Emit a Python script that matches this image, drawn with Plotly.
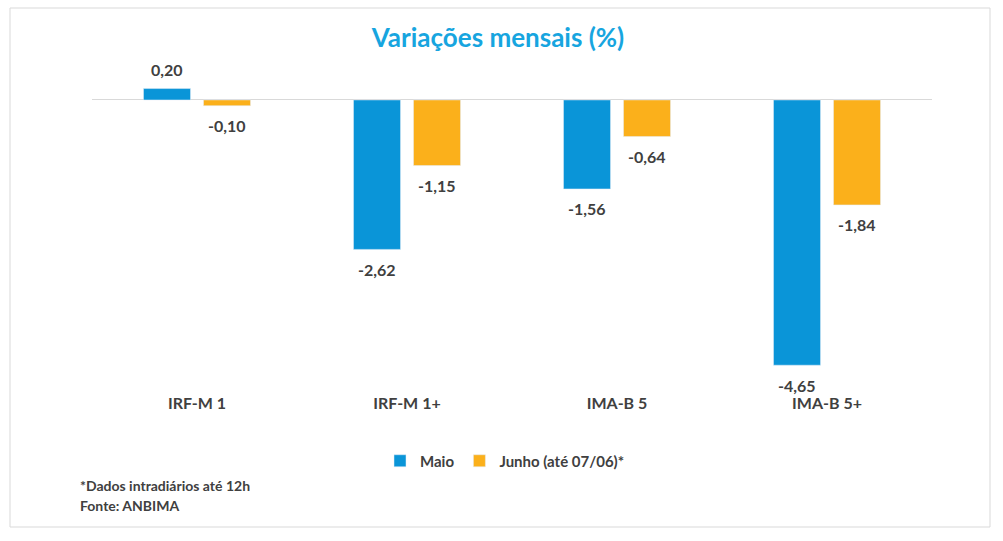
import plotly.graph_objects as go

categories = ["IRF-M 1", "IRF-M 1+", "IMA-B 5", "IMA-B 5+"]
maio = [0.20, -2.62, -1.56, -4.65]
junho = [-0.10, -1.15, -0.64, -1.84]
maio_labels = ["0,20", "-2,62", "-1,56", "-4,65"]
junho_labels = ["-0,10", "-1,15", "-0,64", "-1,84"]

FONT = "Lato"
TXT = "#404040"

W, H = 1003, 541
L, R, T, B = 92, 71, 80, 149  # plot area: x 92..932, y 80..392
pw = W - L - R
ph = H - T - B

def px(x):
    return (x - L) / pw

def py(y):
    return (H - B - y) / ph

fig = go.Figure()
fig.add_trace(go.Bar(x=categories, y=maio, name="Maio", marker_color="#0a95d8"))
fig.add_trace(go.Bar(x=categories, y=junho, name="Junho (até 07/06)*", marker_color="#fbb01b"))

# data labels
for series, labels, xs in ((maio, maio_labels, -30), (junho, junho_labels, 30)):
    for c, v, t in zip(categories, series, labels):
        fig.add_annotation(x=c, y=v, text="<b>" + t + "</b>", showarrow=False,
                           xshift=xs, yshift=19 if v >= 0 else -20,
                           xanchor="center", yanchor="middle",
                           font=dict(family=FONT, size=16, color=TXT))

fig.update_layout(
    width=W, height=H,
    margin=dict(l=L, r=R, t=T, b=B),
    paper_bgcolor="white", plot_bgcolor="white",
    barmode="group", bargap=0.4286, bargroupgap=0.2167,
    font=dict(family=FONT, color=TXT),
    title=dict(text="<b>Variações mensais (%)</b>", x=498 / W, xref="container",
               xanchor="center", y=1 - 38 / H, yanchor="middle",
               font=dict(family=FONT, size=26, color="#17a5df")),
    xaxis=dict(showgrid=False, showline=False, ticks="",
               tickfont=dict(family=FONT, size=16, color=TXT, weight="bold")),
    yaxis=dict(range=[-5.12, 0.35], showgrid=False, showticklabels=False,
               zeroline=True, zerolinecolor="#d9d9d9", zerolinewidth=1),
    showlegend=True,
    legend=dict(orientation="h", x=px(505), xanchor="center", y=py(461),
                yanchor="middle", font=dict(family=FONT, size=15, color=TXT, weight="bold"),
                itemwidth=30, traceorder="normal"),
)

fig.add_annotation(text="<b>*Dados intradiários até 12h</b>", xref="paper", yref="paper",
                   x=px(78), y=py(485), xanchor="left", yanchor="middle", showarrow=False,
                   font=dict(family=FONT, size=14, color=TXT))
fig.add_annotation(text="<b>Fonte: ANBIMA</b>", xref="paper", yref="paper",
                   x=px(78), y=py(505), xanchor="left", yanchor="middle", showarrow=False,
                   font=dict(family=FONT, size=14, color=TXT))

fig.add_shape(type="rect", xref="paper", yref="paper",
              x0=px(10), x1=px(990), y0=py(527), y1=py(8),
              line=dict(color="#d9d9d9", width=1), fillcolor="rgba(0,0,0,0)", layer="below")

fig.write_html("out.html")
